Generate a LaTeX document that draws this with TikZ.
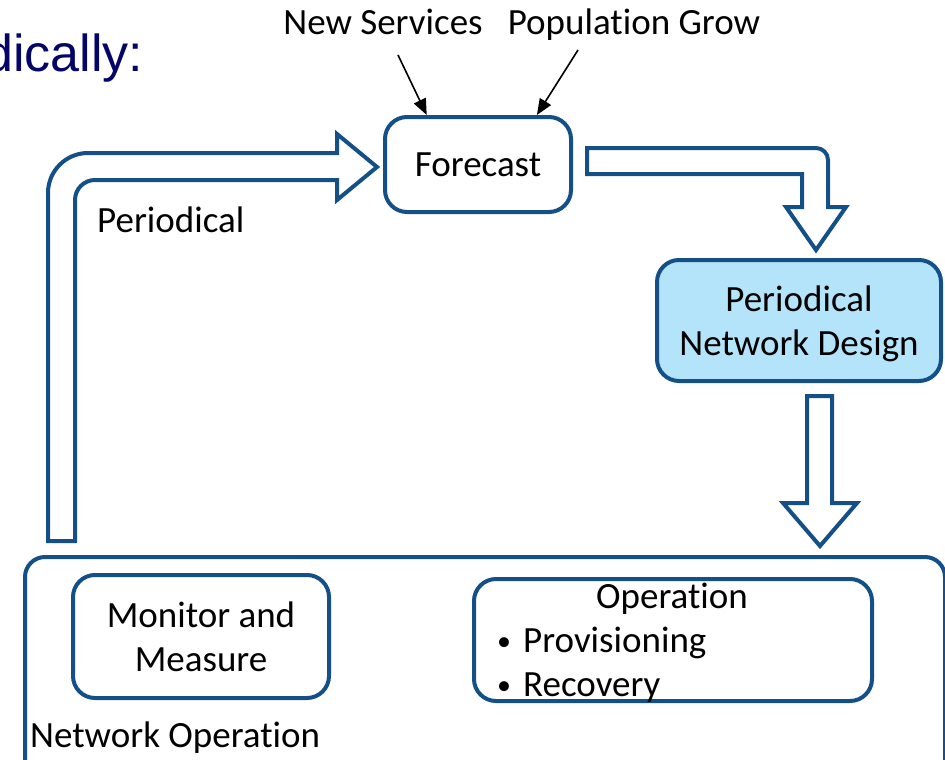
\documentclass[tikz,border=0pt]{standalone}
\usepackage{fontspec}
\setmainfont{Carlito}[Ligatures={NoCommon}]
\newfontfamily\titlefont{Liberation Sans}
\usetikzlibrary{arrows.meta,calc}
\definecolor{boxblue}{RGB}{20,80,135}
\definecolor{designfill}{RGB}{180,228,250}
\definecolor{titlenavy}{RGB}{5,5,105}
\newcommand{\opbullet}{\makebox[29pt][l]{\hspace{3pt}\raisebox{2pt}{\fontsize{28}{28}\selectfont\textbullet}}}
\tikzset{
  box/.style={draw=boxblue, line width=4pt, rounded corners=22pt, inner sep=0pt, align=center},
  blockarrow/.style={draw=boxblue, line width=4pt, fill=white, line join=miter},
  thinarrow/.style={-{Triangle[length=16pt,width=13pt]}, line width=1.6pt},
  lbl/.style={inner sep=0pt},
}
\begin{document}
\begin{tikzpicture}[x=1pt,y=-1pt,font=\fontsize{37}{44}\selectfont]
      \useasboundingbox (0,0) rectangle (945,760);
      % title, cut at the left edge
      \node[lbl, anchor=base west, text=titlenavy, font=\titlefont\fontsize{52}{60}\selectfont]
        (title) at (-16,72) {dically:};
      % boxes
      \node[box, minimum width=186pt, minimum height=95pt] (forecast) at (478,164.5) {Forecast};
      \node[box, fill=designfill, minimum width=284pt, minimum height=121pt, text depth=0pt]
        (design) at (799,320.5) {Periodical\\Network Design};
      \node[box, rounded corners=20pt, minimum width=920pt, minimum height=240pt, anchor=north west]
        (netop) at (23,555) {};
      \node[box, minimum width=256pt, minimum height=123pt] (monitor) at (201,636.5) {Monitor and\\Measure};
      \node[box, minimum width=398pt, minimum height=122pt] (operation) at (673,640) {};
      % texts
      \node[lbl, anchor=base] (optitle) at (672,608) {Operation};
      \node[lbl, anchor=base west] (prov) at (494,652) {\opbullet Provisioning};
      \node[lbl, anchor=base west] (recov) at (494,696) {\opbullet Recovery};
      \node[lbl, anchor=base west] (netoplabel) at (30,747) {Network Operation};
      \node[lbl, anchor=base west] (periodical) at (97,232) {Periodical};
      \node[lbl, anchor=base] (newsvc) at (383,35) {New Services};
      \node[lbl, anchor=base] (popgrow) at (634,35) {Population Grow};
      % inputs of the forecast
      \coordinate (newsvc-tail) at (398,55);
      \coordinate (popgrow-tail) at (578,50);
      \draw[thinarrow] (newsvc-tail) -- ($(forecast.north west)!0.23!(forecast.north east)$);
      \draw[thinarrow] (popgrow-tail) -- ($(forecast.north west)!0.81!(forecast.north east)$);
      % block arrows
      \begin{scope}[blockarrow]
        \draw (48,541) -- (48,193) arc[start angle=180, end angle=270, radius=40]
          -- (337,153) -- (337,134) -- (377,167) -- (337,200) -- (337,180) -- (95,180)
          arc[start angle=270, end angle=180, radius=20] -- (75,541) -- cycle;
        \draw (587,148) -- (816,148) arc[start angle=270, end angle=360, radius=12]
          -- (828,207) -- (846,207) -- (816,250) -- (786,207) -- (802,207) -- (802,174)
          -- (587,174) -- cycle;
        \draw (807,396) -- (832,396) -- (832,503) -- (857,503) -- (820,546) -- (783,503)
          -- (807,503) -- cycle;
      \end{scope}
    \end{tikzpicture}
\end{document}
